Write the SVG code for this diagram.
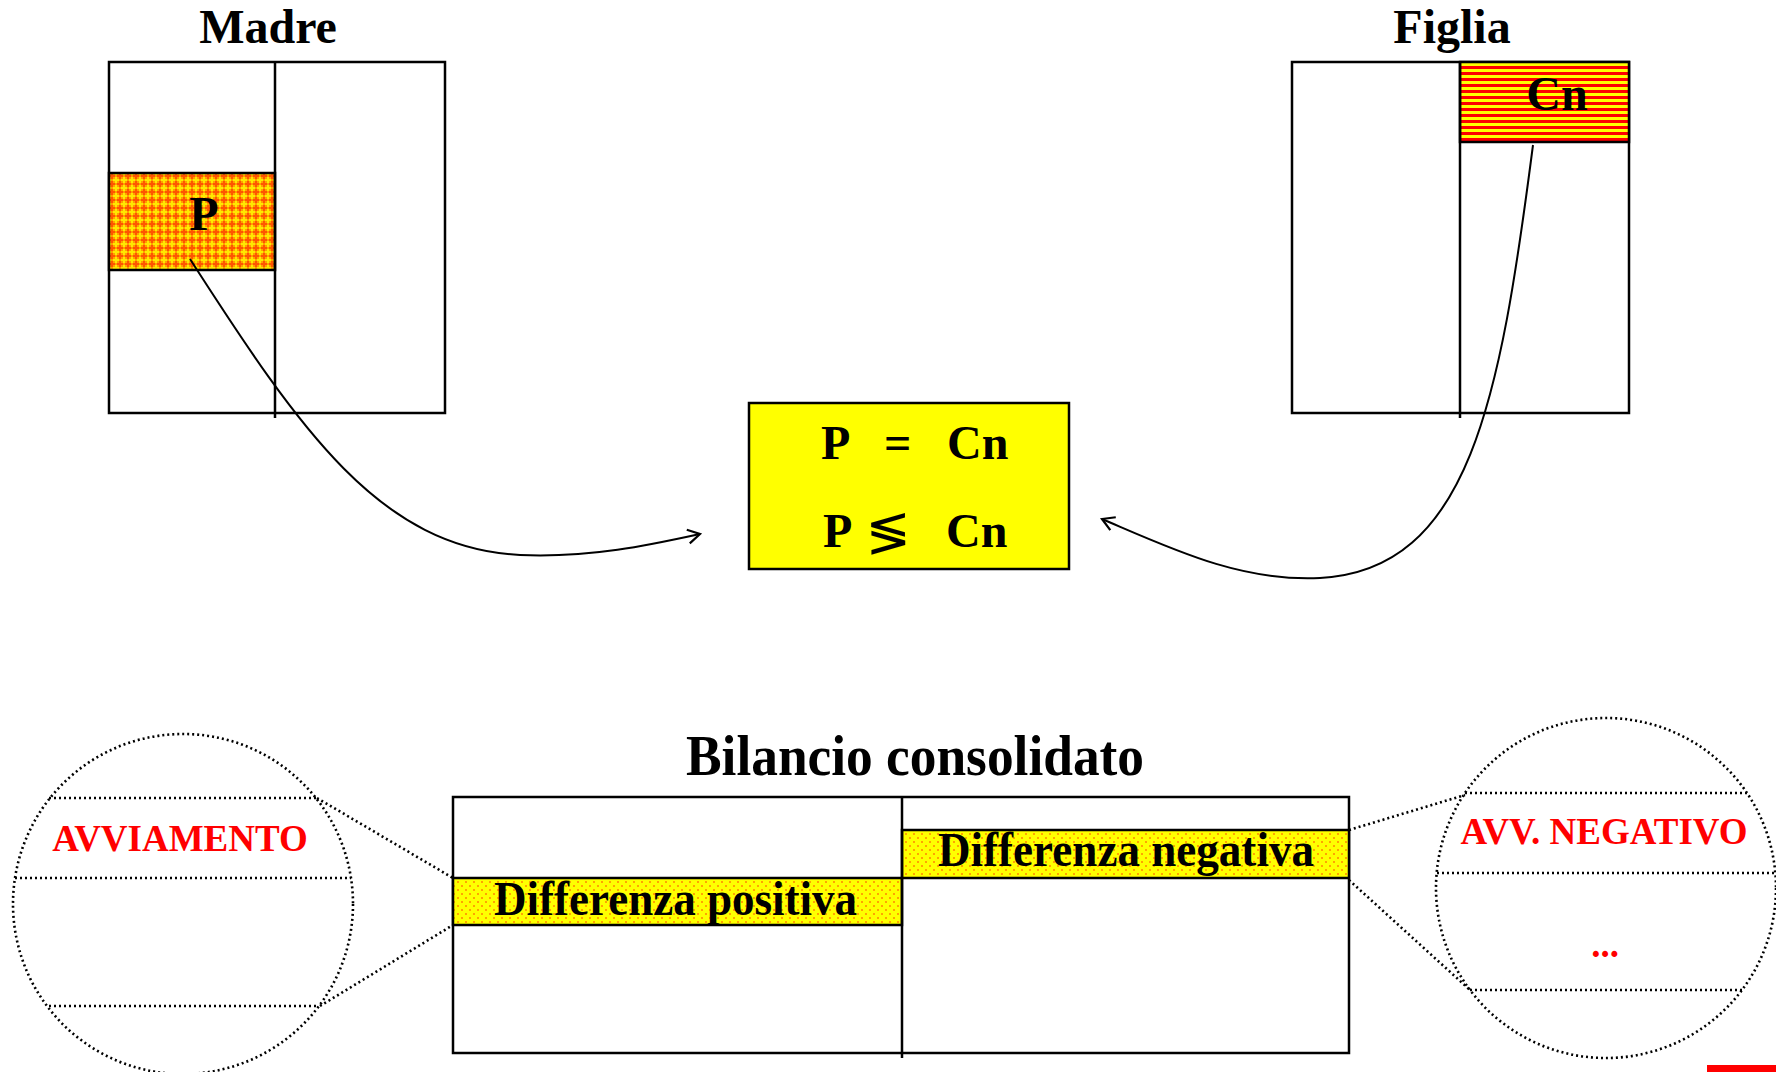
<svg xmlns="http://www.w3.org/2000/svg" width="1776" height="1072" viewBox="0 0 1776 1072">
<style>
.t{font-family:"Liberation Serif","Times New Roman",serif;font-weight:bold;fill:#000}
.red{fill:#FF0000}
.box{fill:#fff;stroke:#000;stroke-width:2.5}
.ln{stroke:#000;stroke-width:2.5;fill:none}
.dot{stroke:#000;stroke-width:2.6;fill:none;stroke-dasharray:2 3}
.conn{stroke:#000;stroke-width:2;fill:none;marker-end:url(#arr)}
</style>
<defs>
<marker id="arr" markerUnits="userSpaceOnUse" markerWidth="24" markerHeight="24" refX="14" refY="8" orient="auto" viewBox="0 0 24 16">
<path d="M2,1 L14,8 L2,15" fill="none" stroke="#000" stroke-width="2.2"/>
</marker>
<pattern id="plaid" width="8" height="8" patternUnits="userSpaceOnUse">
<rect width="8" height="8" fill="#FF5500"/>
<rect x="1" y="1" width="6" height="6" fill="#FFA000"/>
<rect x="3" y="0.5" width="2" height="7" fill="#FFE800"/>
<rect x="0.5" y="3" width="7" height="2" fill="#FFE800"/>
</pattern>
<pattern id="stripes" width="8" height="6" patternUnits="userSpaceOnUse">
<rect width="8" height="6" fill="#FFFF00"/>
<rect y="0" width="8" height="3" fill="#FF0000"/>
</pattern>
<pattern id="dots" width="8" height="8" patternUnits="userSpaceOnUse">
<rect width="8" height="8" fill="#FFFF00"/>
<circle cx="2" cy="2" r="0.8" fill="#FF3300"/>
<circle cx="6" cy="6" r="0.8" fill="#FF3300"/>
</pattern>
</defs>

<g id="madre">
<text class="t" x="268" y="43" font-size="48" text-anchor="middle">Madre</text>
<rect class="box" x="109" y="62" width="336" height="351"/>
<rect x="109" y="173" width="166" height="97" fill="url(#plaid)" stroke="#000" stroke-width="2.5"/>
<line class="ln" x1="275" y1="62" x2="275" y2="418"/>
<text class="t" x="204" y="230" font-size="48" text-anchor="middle">P</text>
</g>

<g id="figlia">
<text class="t" x="1452" y="43" font-size="48" text-anchor="middle">Figlia</text>
<rect class="box" x="1292" y="62" width="337" height="351"/>
<rect x="1460" y="62" width="169" height="80" fill="url(#stripes)" stroke="#000" stroke-width="2.5"/>
<line class="ln" x1="1460" y1="62" x2="1460" y2="418"/>
<text class="t" x="1557" y="110" font-size="48" text-anchor="middle">Cn</text>
</g>

<g id="confronto">
<rect x="749" y="403" width="320" height="166" fill="#FFFF00" stroke="#000" stroke-width="2.5"/>
<text class="t" y="459" font-size="48"><tspan x="821">P</tspan><tspan x="884">=</tspan><tspan x="947">Cn</tspan></text>
<text class="t" y="547" font-size="48"><tspan x="823">P</tspan><tspan x="946">Cn</tspan></text>
<text x="888" y="550" font-size="54" text-anchor="middle" style="font-family:'DejaVu Sans',sans-serif">≶</text>
</g>

<g id="connectors">
<path class="conn" d="M190,259 C300,430 380,548 520,555 C590,558 650,545 700,534"/>
<path class="conn" d="M1533,145 C1500,400 1470,570 1320,578 C1240,582 1170,548 1102,519"/>
<line class="dot" x1="317" y1="798" x2="453" y2="878"/>
<line class="dot" x1="320" y1="1006" x2="453" y2="925"/>
<line class="dot" x1="1349" y1="830" x2="1465" y2="795"/>
<line class="dot" x1="1349" y1="880" x2="1470" y2="990"/>
</g>

<g id="bilancio">
<text class="t" x="915" y="775" font-size="56" text-anchor="middle" textLength="458" lengthAdjust="spacingAndGlyphs">Bilancio consolidato</text>
<rect class="box" x="453" y="797" width="896" height="256"/>
<rect x="453" y="878" width="449" height="47" fill="url(#dots)" stroke="#000" stroke-width="2.5"/>
<rect x="902" y="830" width="447" height="48" fill="url(#dots)" stroke="#000" stroke-width="2.5"/>
<line class="ln" x1="902" y1="797" x2="902" y2="1058"/>
<text class="t" x="494" y="915" font-size="49" textLength="363" lengthAdjust="spacingAndGlyphs">Differenza positiva</text>
<text class="t" x="938" y="866" font-size="49" textLength="376" lengthAdjust="spacingAndGlyphs">Differenza negativa</text>
</g>

<g id="avviamento">
<circle class="dot" cx="183" cy="904" r="170"/>
<line class="dot" x1="49" y1="798" x2="317" y2="798"/>
<line class="dot" x1="15" y1="878" x2="351" y2="878"/>
<line class="dot" x1="49" y1="1006" x2="317" y2="1006"/>
<text class="t red" x="180" y="851" font-size="37" text-anchor="middle">AVVIAMENTO</text>
</g>

<g id="avv-negativo">
<circle class="dot" cx="1606" cy="888" r="170"/>
<line class="dot" x1="1465" y1="793" x2="1747" y2="793"/>
<line class="dot" x1="1437" y1="873" x2="1776" y2="873"/>
<line class="dot" x1="1470" y1="990" x2="1742" y2="990"/>
<text class="t red" x="1604" y="844" font-size="37" text-anchor="middle">AVV. NEGATIVO</text>
<text class="t red" x="1605" y="957" font-size="37" text-anchor="middle">...</text>
</g>

<rect x="1707" y="1065" width="69" height="7" fill="#FF0000"/>
</svg>
